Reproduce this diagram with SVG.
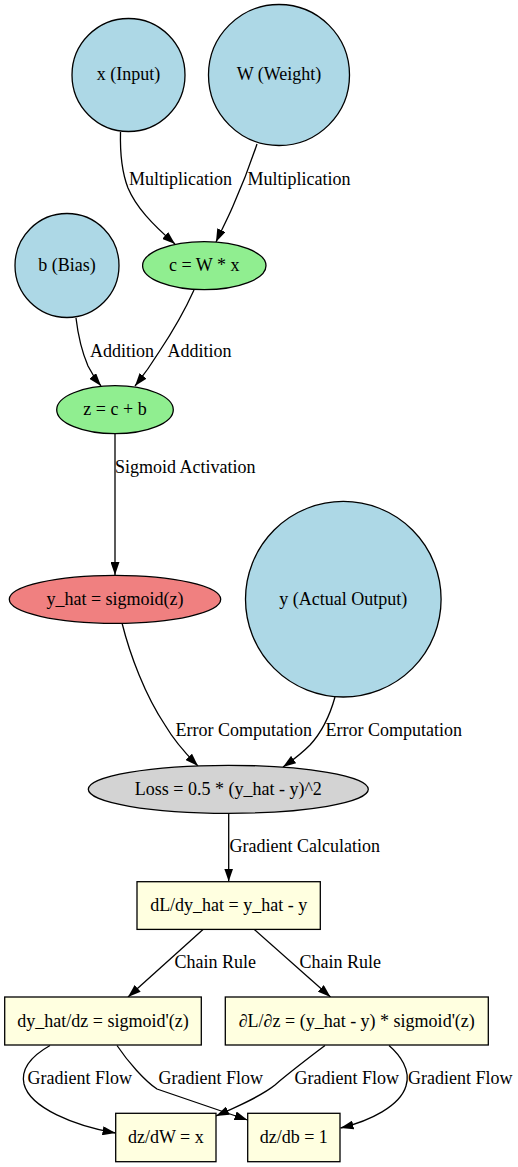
<svg xmlns="http://www.w3.org/2000/svg" width="518" height="1167" viewBox="0 0 518 1167">
<style>
text{font-family:"Liberation Serif","Times New Roman",serif;font-size:18px;fill:#000}
.n text{text-anchor:middle}
.n ellipse,.n circle,.n rect{stroke:#000;stroke-width:1.3}
.blue{fill:#add8e6}.green{fill:#90ee90}.coral{fill:#f08080}.gray{fill:#d3d3d3}.yellow{fill:#ffffe0}
.e path{fill:none;stroke:#000;stroke-width:1.3;marker-end:url(#ah)}
</style>
<defs>
<marker id="ah" markerUnits="userSpaceOnUse" markerWidth="13" markerHeight="9" refX="13" refY="4.5" orient="auto">
<path d="M0,0 L13,4.5 L0,9 z" fill="#000"/>
</marker>
</defs>
<rect width="518" height="1167" fill="#fff"/>
<g class="e" id="edges">
<path d="M120.5,132 C120,152 121,170 128,188 C136,207 152,224 175,244"/>
<path d="M257,144 C250,165 241,188 233,206 C227,220 221,231 216,242"/>
<path d="M76,318 C78,335 82,352 88,366 C92,374 96,380 101,386"/>
<path d="M194,290 C185,310 171,334 159,352 C151,365 143,376 135,386"/>
<path d="M115,434 L115,575"/>
<path d="M122,623 C130,655 145,695 165,725 C175,742 187,755 198,766"/>
<path d="M335,697 C330,715 322,732 310,745 C302,753 293,760 283,767"/>
<path d="M228.7,813 L228.7,881.5"/>
<path d="M203,929.5 L128,997"/>
<path d="M254.3,929.5 L330.5,997"/>
<path d="M50,1045.5 C35,1054 20,1066 24,1084 C30,1108 75,1126 115.5,1133"/>
<path d="M117,1045.5 C128,1062 145,1081 157,1089 L247.5,1120"/>
<path d="M325,1045.5 C310,1057 290,1072 275,1085 C260,1097 236,1107 216,1116"/>
<path d="M389,1045.5 C400,1055 411,1070 406,1086 C400,1106 370,1121 340.5,1128"/>
<text x="129" y="185">Multiplication</text>
<text x="247.5" y="185">Multiplication</text>
<text x="90" y="357">Addition</text>
<text x="167.5" y="357">Addition</text>
<text x="115" y="473">Sigmoid Activation</text>
<text x="175.5" y="736">Error Computation</text>
<text x="325.5" y="736">Error Computation</text>
<text x="229.5" y="852">Gradient Calculation</text>
<text x="174.5" y="968">Chain Rule</text>
<text x="299.5" y="968">Chain Rule</text>
<text x="27.5" y="1084">Gradient Flow</text>
<text x="158.5" y="1084">Gradient Flow</text>
<text x="294.5" y="1084">Gradient Flow</text>
<text x="408" y="1084">Gradient Flow</text>
</g>
<g class="n" id="x_input"><circle class="blue" cx="128.5" cy="75" r="56.5"/><text x="128.5" y="80">x (Input)</text></g>
<g class="n" id="w_weight"><circle class="blue" cx="279" cy="75" r="70.5"/><text x="279" y="80">W (Weight)</text></g>
<g class="n" id="b_bias"><circle class="blue" cx="67" cy="265.5" r="52"/><text x="67" y="271">b (Bias)</text></g>
<g class="n" id="c_node"><ellipse class="green" cx="204.3" cy="265.7" rx="61.7" ry="24"/><text x="204.3" y="271">c = W * x</text></g>
<g class="n" id="z_node"><ellipse class="green" cx="115" cy="409.7" rx="58.3" ry="24"/><text x="115" y="415">z = c + b</text></g>
<g class="n" id="y_hat"><ellipse class="coral" cx="115" cy="599.3" rx="105.7" ry="24"/><text x="115" y="605">y_hat = sigmoid(z)</text></g>
<g class="n" id="y_actual"><circle class="blue" cx="343.3" cy="599.2" r="97.8"/><text x="343.3" y="605">y (Actual Output)</text></g>
<g class="n" id="loss"><ellipse class="gray" cx="228.3" cy="789.3" rx="140" ry="24"/><text x="228.3" y="795">Loss = 0.5 * (y_hat - y)^2</text></g>
<g class="n" id="dl_dyhat"><rect class="yellow" x="137" y="881.7" width="183.3" height="47.7"/><text x="228.7" y="911">dL/dy_hat = y_hat - y</text></g>
<g class="n" id="dyhat_dz"><rect class="yellow" x="4.7" y="997" width="196.6" height="48"/><text x="103" y="1027">dy_hat/dz = sigmoid'(z)</text></g>
<g class="n" id="dl_dz"><rect class="yellow" x="225.3" y="997" width="263" height="48"/><text x="356.8" y="1027">∂L/∂z = (y_hat - y) * sigmoid'(z)</text></g>
<g class="n" id="dz_dw"><rect class="yellow" x="115.7" y="1113.3" width="100.3" height="48.4"/><text x="165.8" y="1143">dz/dW = x</text></g>
<g class="n" id="dz_db"><rect class="yellow" x="247.7" y="1113.3" width="92.3" height="48.4"/><text x="293.8" y="1143">dz/db = 1</text></g>
</svg>
